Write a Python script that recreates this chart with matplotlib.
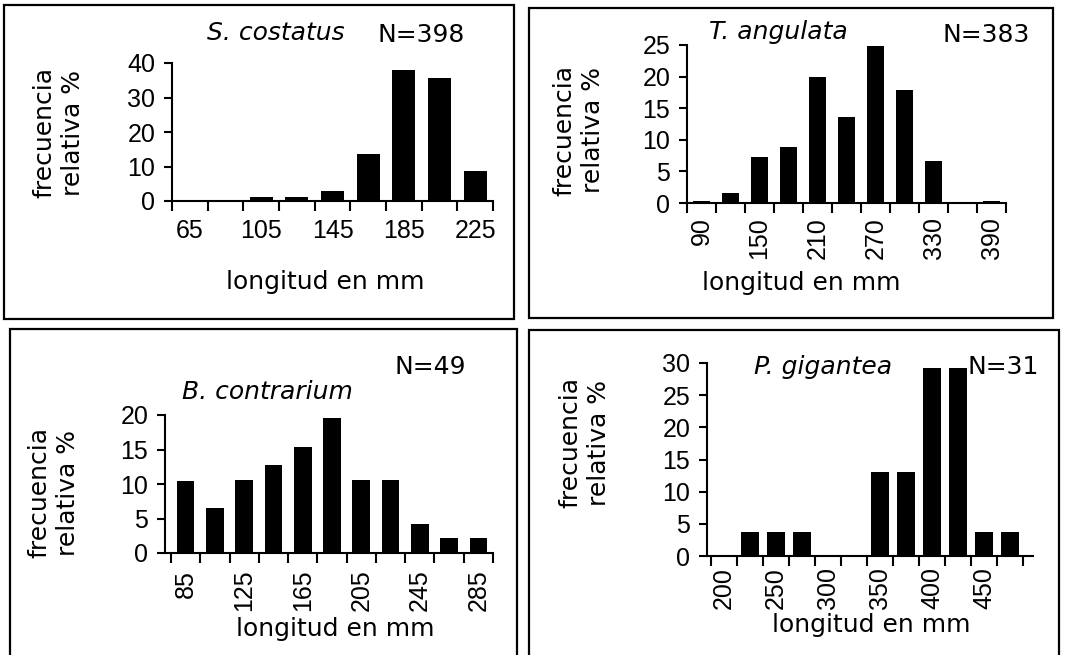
#!/usr/bin/env python3
"""Length-frequency histograms of four bivalve species (2x2 boxed panels)."""

import matplotlib

matplotlib.use("Agg")

import matplotlib.pyplot as plt
import numpy as np
from matplotlib.patches import Rectangle

W_PX, H_PX = 1065, 655

# --- data (bin centre in mm, relative frequency %) ---
s_costatus_len = [65, 85, 105, 125, 145, 165, 185, 205, 225]
s_costatus_freq = [0, 0, 1.2, 1.2, 2.8, 13.5, 37.9, 35.6, 8.8]
s_costatus_ticks = [65, 105, 145, 185, 225]

t_angulata_len = [90, 120, 150, 180, 210, 240, 270, 300, 330, 360, 390]
t_angulata_freq = [0.35, 1.6, 7.3, 8.8, 19.9, 13.6, 24.9, 17.9, 6.6, 0, 0.35]
t_angulata_ticks = [90, 150, 210, 270, 330, 390]

b_contrarium_len = [85, 105, 125, 145, 165, 185, 205, 225, 245, 265, 285]
b_contrarium_freq = [10.5, 6.5, 10.6, 12.8, 15.4, 19.5, 10.6, 10.6, 4.2, 2.2, 2.2]
b_contrarium_ticks = [85, 125, 165, 205, 245, 285]

p_gigantea_len = [200, 225, 250, 275, 300, 325, 350, 375, 400, 425, 450, 475]
p_gigantea_freq = [0, 3.7, 3.7, 3.7, 0, 0, 13.1, 13.1, 29.3, 29.3, 3.7, 3.7]
p_gigantea_ticks = [200, 250, 300, 350, 400, 450]

FONT = 18
TICK_FONT = {"family": "Liberation Sans", "size": 18}


def fig_xy(px, py):
    return px / W_PX, 1 - py / H_PX


def add_box(fig, left, top, right, bottom):
    x0, y0 = fig_xy(left, bottom)
    x1, y1 = fig_xy(right, top)
    fig.patches.append(
        Rectangle((x0, y0), x1 - x0, y1 - y0, transform=fig.transFigure,
                  fill=False, edgecolor="black", linewidth=1.6)
    )


def add_text(fig, px, py, s, **kw):
    x, y = fig_xy(px, py)
    fig.text(x, y, s, ha="center", va="center", fontsize=FONT, **kw)


def histo_panel(fig, rect_px, centers, freqs, labels, *, xlim, ylim, ystep,
                bar_frac, rotate, label_pad):
    left, top, right, bottom = rect_px
    x0, y0 = fig_xy(left, bottom)
    ax = fig.add_axes([x0, y0, (right - left) / W_PX, (bottom - top) / H_PX])

    centers = np.asarray(centers, dtype=float)
    width = centers[1] - centers[0]
    ax.bar(centers, freqs, width=width * bar_frac, color="black", clip_on=False)

    edges = np.append(centers - width / 2, centers[-1] + width / 2)
    ax.set_xticks(edges)
    ax.set_xticklabels([])
    ax.set_xticks(labels, minor=True)
    ax.set_xticklabels([str(v) for v in labels], minor=True,
                       rotation=90 if rotate else 0, fontdict=TICK_FONT)
    yt = np.arange(ylim[0], ylim[1] + 0.1, ystep)
    ax.set_yticks(yt)
    ax.set_yticklabels([f"{v:g}" for v in yt], fontdict=TICK_FONT)
    ax.set_xlim(*xlim)
    ax.set_ylim(*ylim)

    ax.tick_params(axis="x", which="major", direction="out", length=7, width=1.5)
    ax.tick_params(axis="x", which="minor", length=0, pad=label_pad)
    ax.tick_params(axis="y", direction="out", length=6, width=1.5, pad=6)
    for side in ("top", "right"):
        ax.spines[side].set_visible(False)
    for side in ("left", "bottom"):
        ax.spines[side].set_linewidth(1.5)
    ax.patch.set_alpha(0)
    return ax


def main() -> None:
    plt.rcParams["font.family"] = ["DejaVu Sans"]
    fig = plt.figure(figsize=(W_PX / 100, H_PX / 100), dpi=100)

    add_box(fig, 4, 5, 514, 319)
    add_box(fig, 529, 8, 1053, 318)
    add_box(fig, 10, 329, 517, 670)
    add_box(fig, 529, 330, 1059, 670)

    ylab = "frecuencia\nrelativa %"

    # S. costatus
    histo_panel(fig, (172, 63, 493, 201), s_costatus_len, s_costatus_freq,
                s_costatus_ticks, xlim=(55, 235), ylim=(0, 40), ystep=10,
                bar_frac=0.64, rotate=False, label_pad=13)
    add_text(fig, 276, 33, "S. costatus", style="italic")
    add_text(fig, 421, 35, "N=398")
    add_text(fig, 59, 133, ylab, rotation=90, linespacing=1.25)
    add_text(fig, 325, 282, "longitud en mm")

    # T. angulata
    histo_panel(fig, (687, 45, 1006, 203), t_angulata_len, t_angulata_freq,
                t_angulata_ticks, xlim=(75, 405), ylim=(0, 25), ystep=5,
                bar_frac=0.6, rotate=True, label_pad=10)
    add_text(fig, 778, 32, "T. angulata", style="italic")
    add_text(fig, 986, 35, "N=383")
    add_text(fig, 579, 130, ylab, rotation=90, linespacing=1.25)
    add_text(fig, 801, 283, "longitud en mm")

    # B. contrarium
    histo_panel(fig, (165, 415, 493, 553), b_contrarium_len, b_contrarium_freq,
                b_contrarium_ticks, xlim=(70.9, 295), ylim=(0, 20), ystep=5,
                bar_frac=0.6, rotate=True, label_pad=12)
    add_text(fig, 430, 367, "N=49")
    add_text(fig, 267, 392, "B. contrarium", style="italic")
    add_text(fig, 54, 493, ylab, rotation=90, linespacing=1.25)
    add_text(fig, 335, 629, "longitud en mm")

    # P. gigantea
    histo_panel(fig, (707, 363, 1033, 556), p_gigantea_len, p_gigantea_freq,
                p_gigantea_ticks, xlim=(183.65, 497.1), ylim=(0, 30), ystep=5,
                bar_frac=0.7, rotate=True, label_pad=8)
    add_text(fig, 823, 367, "P. gigantea", style="italic")
    add_text(fig, 1003, 367, "N=31")
    add_text(fig, 585, 443, ylab, rotation=90, linespacing=1.25)
    add_text(fig, 871, 625, "longitud en mm")

    fig.savefig("out.png", dpi=100)


if __name__ == "__main__":
    main()
